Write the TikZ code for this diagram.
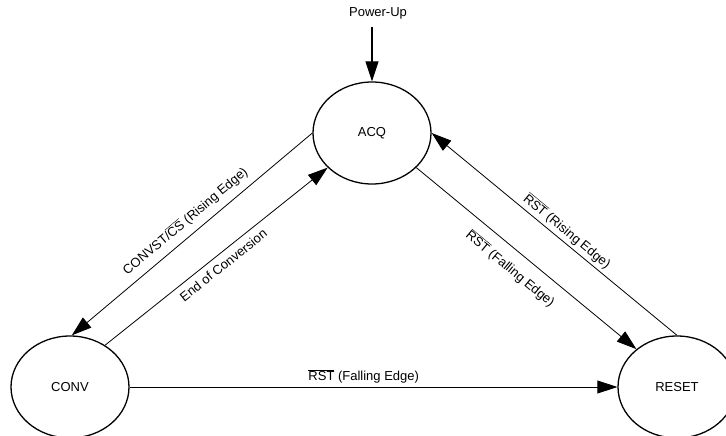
\documentclass[tikz,border=0pt]{standalone}
\usepackage{fontspec}
\setmainfont{Liberation Sans}
\usetikzlibrary{arrows.meta,shapes.geometric}
\newcommand{\ovl}[1]{$\overline{\mbox{#1}}$}
\begin{document}
\begin{tikzpicture}[x=1pt,y=-1pt,
  state/.style={ellipse,draw,line width=1.3pt,minimum width=118pt,minimum height=102pt,inner sep=0pt,font=\fontsize{13}{15}\selectfont},
  conn/.style={line width=0.8pt,-{Triangle[length=20pt,width=13pt]}},
  lbl/.style={font=\fontsize{13}{15}\selectfont,inner sep=0pt,sloped}]
\useasboundingbox (0,0) rectangle (726,436);
\node[state] (acq) at (372,133) {ACQ};
\node[state] (conv) at (70,387) {CONV};
\node[state] (reset) at (677,387) {RESET};
\node[font=\fontsize{13}{15}\selectfont,inner sep=0pt] (pu) at (378,13) {Power-Up};
\coordinate (pus) at (372,27);
\draw[conn,line width=1.1pt] (pus) -- (acq.north);
\draw[conn] (acq.180) -- node[lbl,above=7pt,pos=0.49] {CONVST/\ovl{CS} (Rising Edge)} (conv.88);
\draw[conn] (conv.50) -- node[lbl,below=6pt,pos=0.50] {End of Conversion} (acq.218);
\draw[conn] (acq.322) -- node[lbl,below=11pt,pos=0.48] {\ovl{RST} (Falling Edge)} (reset.137);
\draw[conn] (reset.90) -- node[lbl,above=3pt,pos=0.475] {\ovl{RST} (Rising Edge)} (acq.0);
\draw[conn] (conv.east) -- node[lbl,above=3pt,pos=0.48] {\ovl{RST} (Falling Edge)} (reset.west);
\end{tikzpicture}
\end{document}
